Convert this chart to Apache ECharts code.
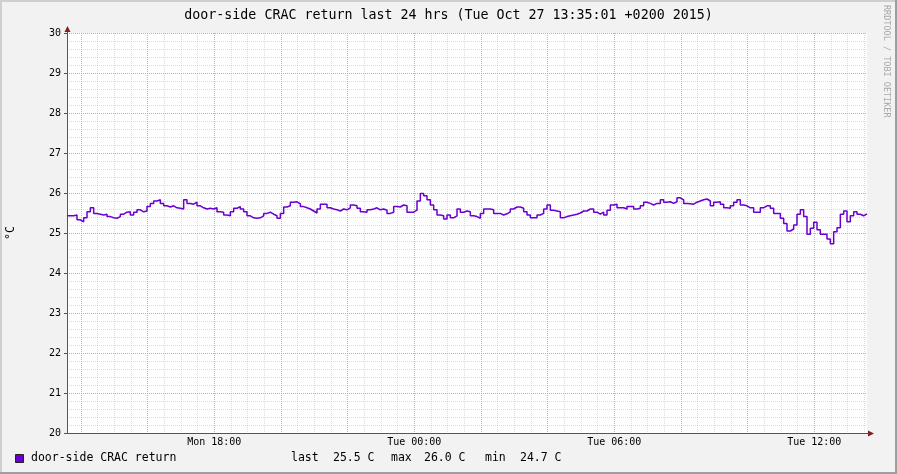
<!DOCTYPE html>
<html><head><meta charset="utf-8">
<script src="https://cdn.jsdelivr.net/npm/echarts@6/dist/echarts.min.js"></script>
<style>html,body{margin:0;padding:0;background:#f2f2f2}#c{width:897px;height:474px}</style>
</head><body><div id="c"></div>
<script>
// ---- data ----
const titleText = 'door-side CRAC return last 24 hrs (Tue Oct 27 13:35:01 +0200 2015)';
const seriesName = 'door-side CRAC return';
const unitLabel = '°C';
const watermarkText = 'RRDTOOL / TOBI OETIKER';
const startMinute = 815;   // Mon 13:35 (minutes since Mon 00:00)
const stepMinutes = 6;
const spanMinutes = 1440;
// readings, 6-minute steps, in four 6-hour blocks
const tempsBlock1 = [25.43,25.43,25.45,25.33,25.28,25.38,25.53,25.63,25.49,25.47,
  25.45,25.47,25.41,25.38,25.37,25.41,25.47,25.52,25.53,25.45,
  25.52,25.58,25.53,25.55,25.66,25.74,25.80,25.83,25.74,25.68,
  25.65,25.68,25.63,25.62,25.60,25.83,25.74,25.72,25.77,25.68,
  25.63,25.60,25.62,25.60,25.63,25.53,25.52,25.45,25.43,25.53,
  25.62,25.66,25.60,25.53,25.43,25.38,25.37,25.38,25.43,25.49];
const tempsBlock2 = [25.52,25.47,25.43,25.37,25.49,25.65,25.68,25.77,25.78,25.73,
  25.66,25.63,25.60,25.55,25.50,25.60,25.72,25.72,25.63,25.60,
  25.58,25.55,25.60,25.58,25.63,25.70,25.68,25.62,25.53,25.52,
  25.58,25.60,25.63,25.58,25.60,25.57,25.49,25.52,25.66,25.65,
  25.70,25.68,25.52,25.52,25.57,25.80,25.99,25.93,25.83,25.70,
  25.58,25.45,25.43,25.35,25.45,25.38,25.43,25.60,25.52,25.55];
const tempsBlock3 = [25.53,25.43,25.41,25.37,25.49,25.60,25.60,25.58,25.49,25.49,
  25.45,25.48,25.53,25.60,25.65,25.65,25.62,25.53,25.45,25.38,
  25.38,25.45,25.49,25.60,25.70,25.57,25.55,25.53,25.38,25.41,
  25.43,25.45,25.47,25.50,25.55,25.55,25.60,25.60,25.52,25.47,
  25.52,25.45,25.57,25.70,25.72,25.63,25.63,25.60,25.66,25.66,
  25.60,25.62,25.68,25.77,25.74,25.70,25.74,25.74,25.83,25.77];
const tempsBlock4 = [25.78,25.74,25.78,25.88,25.83,25.74,25.73,25.72,25.77,25.80,
  25.83,25.85,25.80,25.68,25.77,25.78,25.72,25.63,25.62,25.68,
  25.77,25.83,25.70,25.68,25.63,25.63,25.52,25.52,25.63,25.68,
  25.68,25.62,25.49,25.49,25.37,25.24,25.05,25.10,25.20,25.47,
  25.58,25.41,24.97,25.12,25.27,25.08,24.97,24.97,24.85,24.73,
  25.03,25.13,25.47,25.55,25.28,25.43,25.53,25.47,25.43,25.48];
const yTickValues = [20,21,22,23,24,25,26,27,28,29,30];
const xLabelValues = [1080, 1440, 1800, 2160];
const xLabelTexts = ['Mon 18:00', 'Tue 00:00', 'Tue 06:00', 'Tue 12:00'];

// ---- build ----
const temps = [].concat(tempsBlock1, tempsBlock2, tempsBlock3, tempsBlock4);
const seriesData = temps.map((v, i) => [startMinute + i * stepMinutes, v]);
seriesData.push([startMinute + spanMinutes, temps[temps.length - 1]]);
const lastV = temps[temps.length - 1], maxV = Math.max(...temps), minV = Math.min(...temps);

const xMin = startMinute, xMax = startMinute + spanMinutes;
const minorX = [], majorX = [];
for (let m = 840; m <= xMax; m += 30) {
  if ((m - 840) % 120 === 0) majorX.push(m); else minorX.push(m);
}

const MONO = 'DejaVu Sans Mono';
const GRID_C = 'rgba(143,143,143,0.32)';
const MGRID_C = '#e6a0a0';
const AXIS_C = '#555';
const ARROW_C = '#801f1f';
const LINE_C = '#6a00d0';

const G = {left: 67, right: 30, top: 33, bottom: 41};
const chart = echarts.init(document.getElementById('c'), null, {renderer: 'canvas'});

function xAx(extra) {
  return Object.assign({
    type: 'value', gridIndex: 0, min: xMin, max: xMax, position: 'bottom', offset: 0,
    axisLine: {show: false}, axisTick: {show: false}, axisLabel: {show: false},
    splitLine: {show: false}
  }, extra);
}

chart.setOption({
  animation: false,
  backgroundColor: '#f2f2f2',
  title: {text: titleText, left: 'center', top: 4,
    textStyle: {fontFamily: MONO, fontSize: 13.3, fontWeight: 'normal', color: '#000'}},
  grid: Object.assign({show: true, backgroundColor: '#fff', borderWidth: 0,
    containLabel: false, outerBoundsMode: 'none'}, G),
  xAxis: [
    xAx({axisTick: {show: false, customValues: minorX},
      splitLine: {show: true, lineStyle: {color: [GRID_C], type: [1, 1], width: 1}}}),
    xAx({axisTick: {show: false, customValues: majorX},
      splitLine: {show: true, lineStyle: {color: [MGRID_C], type: [1, 1], width: 1}}}),
    xAx({
      axisLine: {show: true, lineStyle: {color: AXIS_C, width: 1}},
      axisTick: {show: false, customValues: xLabelValues},
      axisLabel: {show: true, customValues: xLabelValues, margin: 4,
        fontFamily: MONO, fontSize: 10, color: '#000',
        formatter: v => xLabelTexts[xLabelValues.indexOf(v)]}
    })
  ],
  yAxis: [{
    type: 'value', min: 20, max: 30, interval: 1, position: 'left',
    name: unitLabel, nameLocation: 'middle', nameRotate: 90, nameGap: 50,
    nameTextStyle: {fontFamily: MONO, fontSize: 11.5, color: '#000'},
    axisLine: {show: true, lineStyle: {color: AXIS_C, width: 1}},
    axisTick: {show: true, length: 3, lineStyle: {color: AXIS_C}},
    axisLabel: {fontFamily: MONO, fontSize: 10, color: '#000', margin: 6,
      formatter: v => (yTickValues.indexOf(v) >= 0 ? String(v) : '')},
    splitLine: {show: true, lineStyle: {color: [MGRID_C], type: [1, 1], width: 1}},
    minorTick: {show: false, splitNumber: 5},
    minorSplitLine: {show: true, lineStyle: {color: GRID_C, type: [1, 1], width: 1}}
  }],
  series: [{
    name: seriesName, type: 'line', xAxisIndex: 2, yAxisIndex: 0,
    data: seriesData, step: 'end', showSymbol: false, symbol: 'none',
    lineStyle: {color: LINE_C, width: 1.5}, z: 5
  }],
  graphic: [
    {type: 'rect', shape: {x: 0, y: 0, width: 897, height: 2}, style: {fill: '#cfcfcf'}, silent: true},
    {type: 'rect', shape: {x: 0, y: 0, width: 2, height: 474}, style: {fill: '#cfcfcf'}, silent: true},
    {type: 'rect', shape: {x: 0, y: 472, width: 897, height: 2}, style: {fill: '#9e9e9e'}, silent: true},
    {type: 'rect', shape: {x: 895, y: 0, width: 2, height: 474}, style: {fill: '#9e9e9e'}, silent: true},
    {type: 'line', shape: {x1: 67.5, y1: 33, x2: 67.5, y2: 29}, style: {stroke: AXIS_C, lineWidth: 1}, silent: true},
    {type: 'polygon', shape: {points: [[67.5, 26], [64.5, 32], [70.5, 32]]}, style: {fill: ARROW_C}, silent: true},
    {type: 'line', shape: {x1: 867, y1: 433.5, x2: 870, y2: 433.5}, style: {stroke: AXIS_C, lineWidth: 1}, silent: true},
    {type: 'polygon', shape: {points: [[874, 433.5], [868, 430.5], [868, 436.5]]}, style: {fill: ARROW_C}, silent: true},
    {type: 'text', x: 886.5, y: 5, rotation: -Math.PI / 2, silent: true,
      style: {text: watermarkText, font: '8.5px "' + MONO + '"', fill: '#a8a8a8', align: 'left', verticalAlign: 'middle'}},
    {type: 'rect', shape: {x: 15.5, y: 454.5, width: 8, height: 8}, style: {fill: LINE_C, stroke: '#222', lineWidth: 1}, silent: true},
    {type: 'text', x: 31, y: 458.5, silent: true,
      style: {text: seriesName, font: '11.5px "' + MONO + '"', fill: '#000', verticalAlign: 'middle'}},
    {type: 'text', x: 291, y: 458.5, silent: true,
      style: {text: 'last', font: '11.5px "' + MONO + '"', fill: '#000', verticalAlign: 'middle'}},
    {type: 'text', x: 333, y: 458.5, silent: true,
      style: {text: lastV.toFixed(1) + ' C', font: '11.5px "' + MONO + '"', fill: '#000', verticalAlign: 'middle'}},
    {type: 'text', x: 391, y: 458.5, silent: true,
      style: {text: 'max', font: '11.5px "' + MONO + '"', fill: '#000', verticalAlign: 'middle'}},
    {type: 'text', x: 424, y: 458.5, silent: true,
      style: {text: maxV.toFixed(1) + ' C', font: '11.5px "' + MONO + '"', fill: '#000', verticalAlign: 'middle'}},
    {type: 'text', x: 485, y: 458.5, silent: true,
      style: {text: 'min', font: '11.5px "' + MONO + '"', fill: '#000', verticalAlign: 'middle'}},
    {type: 'text', x: 520, y: 458.5, silent: true,
      style: {text: minV.toFixed(1) + ' C', font: '11.5px "' + MONO + '"', fill: '#000', verticalAlign: 'middle'}}
  ]
});
</script>
</body></html>
